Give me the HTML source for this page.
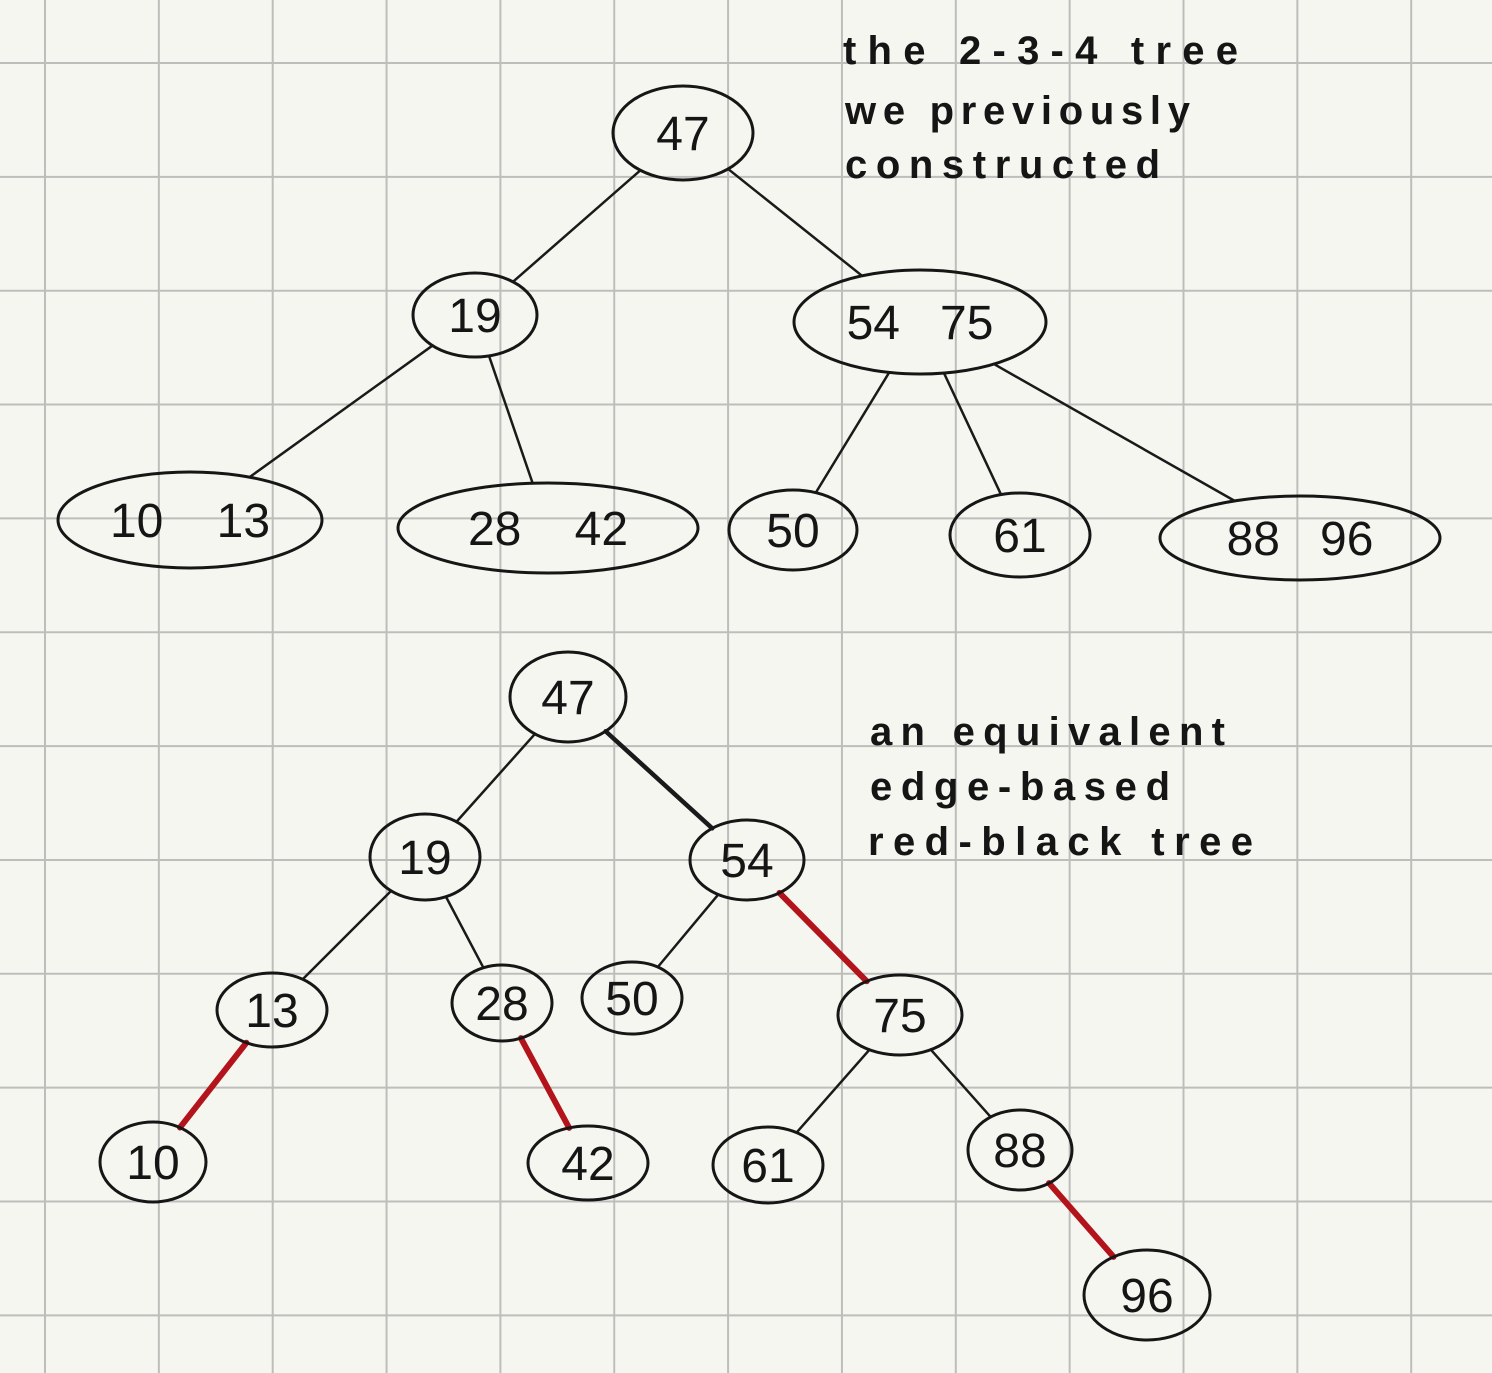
<!DOCTYPE html>
<html><head><meta charset="utf-8"><style>
html,body{margin:0;padding:0;background:#f6f6f1;}
svg{display:block;}
text{font-family:"Liberation Sans",sans-serif;fill:#151515;white-space:pre;}
</style></head><body>
<svg id="s" width="1492" height="1373" viewBox="0 0 1492 1373" xmlns="http://www.w3.org/2000/svg">
<rect width="1492" height="1373" fill="#f6f6f1"/>
<g id="grid"></g>
<g id="edges"></g>
<g id="nodes"></g>
<g>
<text x="843" y="64" font-size="40" font-weight="bold" textLength="395">the 2-3-4 tree</text>
<text x="845" y="124" font-size="40" font-weight="bold" textLength="345">we previously</text>
<text x="845" y="178" font-size="40" font-weight="bold" textLength="315">constructed</text>
</g>
<g>
<text x="870" y="745" font-size="40" font-weight="bold" textLength="355">an equivalent</text>
<text x="870" y="800" font-size="40" font-weight="bold" textLength="300">edge-based</text>
<text x="868" y="855" font-size="40" font-weight="bold" textLength="385">red-black tree</text>
</g>
</svg>
<script>
const NS='http://www.w3.org/2000/svg';
// node labels, centers and radii
const nodeLabels=['47','19','54   75','10    13','28    42','50','61','88   96','47','19','54','13','28','50','75','10','42','61','88','96'];
const nodeCx=[683,475,920,190,548,793,1020,1300,568,425,747,272,502,632,900,153,588,768,1020,1147];
const nodeCy=[133,315,322,520,528,530,535,538,697,857,860,1010,1003,998,1015,1162,1163,1165,1150,1295];
const nodeRx=[70,62,126,132,150,64,70,140,58,55,57,55,50,50,62,53,60,55,52,63];
const nodeRy=[47,42,52,48,45,40,42,42,45,43,40,37,38,36,40,40,37,38,40,45];
// edges: from, to, kind (0 black, 1 red, 2 thick black)
const edgeFrom=[0,0,1,1,2,2,2,8,8,9,9,10,10,14,14,11,12,18];
const edgeTo=[1,2,3,4,5,6,7,9,10,11,12,13,14,17,18,15,16,19];
const edgeKind=[0,0,0,0,0,0,0,0,2,0,0,0,1,0,0,1,1,1];

const grid=document.getElementById('grid');
for(let x=45;x<1492;x+=113.85){
  const l=document.createElementNS(NS,'line');
  l.setAttribute('x1',x);l.setAttribute('x2',x);l.setAttribute('y1',0);l.setAttribute('y2',1373);
  l.setAttribute('stroke','#bdbdbb');l.setAttribute('stroke-width','2');
  
  
  grid.appendChild(l);
}
for(let y=63;y<1373;y+=113.85){
  const l=document.createElementNS(NS,'line');
  l.setAttribute('y1',y);l.setAttribute('y2',y);l.setAttribute('x1',0);l.setAttribute('x2',1492);
  l.setAttribute('stroke','#bdbdbb');l.setAttribute('stroke-width','2');
  
  
  grid.appendChild(l);
}
function edgePoint(i,tx,ty){
  const dx=tx-nodeCx[i],dy=ty-nodeCy[i];
  const t=1/Math.sqrt((dx*dx)/(nodeRx[i]*nodeRx[i])+(dy*dy)/(nodeRy[i]*nodeRy[i]));
  return [nodeCx[i]+dx*t,nodeCy[i]+dy*t];
}
const eg=document.getElementById('edges');
for(let k=0;k<edgeFrom.length;k++){
  const a=edgeFrom[k],b=edgeTo[k];
  const p=edgePoint(a,nodeCx[b],nodeCy[b]);
  const q=edgePoint(b,nodeCx[a],nodeCy[a]);
  const l=document.createElementNS(NS,'line');
  l.setAttribute('x1',p[0]);l.setAttribute('y1',p[1]);l.setAttribute('x2',q[0]);l.setAttribute('y2',q[1]);
  l.setAttribute('stroke',edgeKind[k]===1?'#b3141c':'#1a1a1a');
  l.setAttribute('stroke-width',edgeKind[k]===1?'6':(edgeKind[k]===2?'4.5':'2.5'));
  l.setAttribute('stroke-linecap','round');
  
  
  eg.appendChild(l);
}
const ng=document.getElementById('nodes');
for(let i=0;i<nodeLabels.length;i++){
  const g=document.createElementNS(NS,'g');
  
  
  const e=document.createElementNS(NS,'ellipse');
  e.setAttribute('cx',nodeCx[i]);e.setAttribute('cy',nodeCy[i]);
  e.setAttribute('rx',nodeRx[i]);e.setAttribute('ry',nodeRy[i]);
  e.setAttribute('fill','none');e.setAttribute('stroke','#161616');e.setAttribute('stroke-width','3');
  
  
  g.appendChild(e);
  const t=document.createElementNS(NS,'text');
  t.setAttribute('x',nodeCx[i]);t.setAttribute('y',nodeCy[i]+17);
  t.setAttribute('text-anchor','middle');t.setAttribute('font-size','48');
  t.textContent=nodeLabels[i];
  
  
  g.appendChild(t);
  ng.appendChild(g);
}
</script>
</body></html>
